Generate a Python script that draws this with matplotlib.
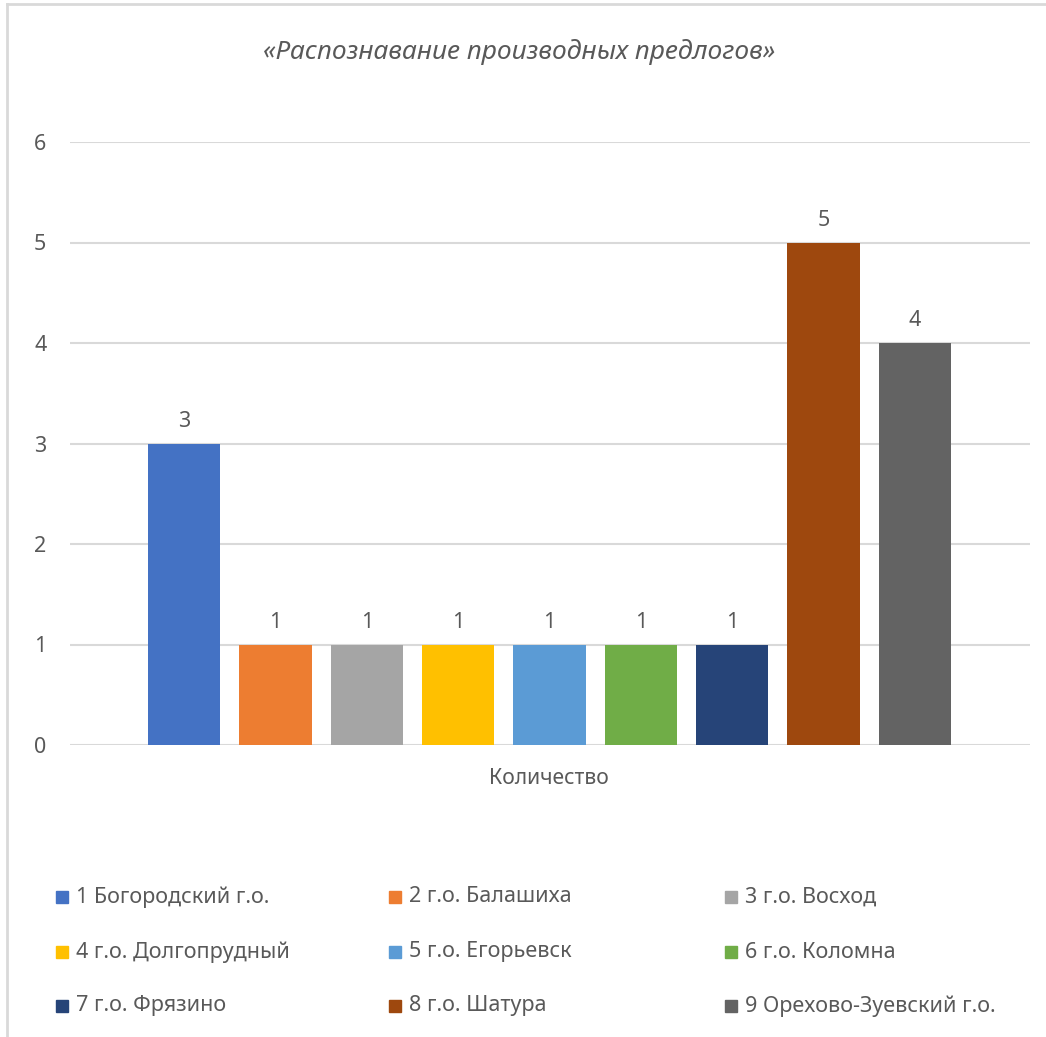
import matplotlib.pyplot as plt
from matplotlib.lines import Line2D
from matplotlib.patches import Rectangle

plt.rcParams['font.family'] = ['Noto Sans', 'DejaVu Sans']

# data
names = ["1 Богородский г.о.", "2 г.о. Балашиха", "3 г.о. Восход",
         "4 г.о. Долгопрудный", "5 г.о. Егорьевск", "6 г.о. Коломна",
         "7 г.о. Фрязино", "8 г.о. Шатура", "9 Орехово-Зуевский г.о."]
values = [3, 1, 1, 1, 1, 1, 1, 5, 4]
colors = ["#4472C4", "#ED7D31", "#A5A5A5", "#FFC000", "#5B9BD5",
          "#70AD47", "#264478", "#9E480E", "#636363"]
title = "«Распознавание производных предлогов»"
category = "Количество"

W, H = 1046, 1037
fig = plt.figure(figsize=(W / 100, H / 100), dpi=100)
ax = fig.add_axes([70 / W, 1 - 745 / H, 960 / W, 603 / H])

text_col = "#595959"
grid_col = "#D9D9D9"

x = list(range(len(values)))
ax.bar(x, values, width=0.79, color=colors, zorder=3)
for xi, v in zip(x, values):
    ax.annotate(str(v), (xi, v), xytext=(0, 16), textcoords="offset points",
                ha="center", va="center", fontsize=15.5, color=text_col)

ax.set_xlim(-1.25, 9.26)
ax.set_ylim(0, 6)
ax.set_yticks(range(0, 7))
ax.set_xticks([])
ax.yaxis.grid(True, color=grid_col, linewidth=1.5, zorder=0)
for s in ax.spines.values():
    s.set_visible(False)
ax.tick_params(axis="y", length=0, pad=17, labelsize=15.5, labelcolor=text_col)
ax.set_facecolor("none")

fig.text(549 / W, 1 - 778 / H, category, ha="center", va="center",
         fontsize=15.2, color=text_col)
fig.text(519 / W, 1 - 52 / H, title, ha="center", va="center",
         fontsize=19, style="italic", color=text_col)

# legend, 3 columns
col_x = [56, 389, 725]
row_y = [897, 952, 1006]
for i, (nm, c) in enumerate(zip(names, colors)):
    cx = col_x[i % 3]
    cy = row_y[i // 3]
    fig.patches.append(Rectangle((cx / W, 1 - (cy + 6) / H), 12 / W, 12 / H,
                                 transform=fig.transFigure, color=c))
    fig.text((cx + 20) / W, 1 - cy / H, nm, ha="left", va="center",
             fontsize=15.5, color=text_col)

# chart border (top and left)
fig.lines.append(Line2D([7 / W, 1], [1 - 4 / H, 1 - 4 / H],
                        transform=fig.transFigure, color=grid_col, linewidth=2))
fig.lines.append(Line2D([7 / W, 7 / W], [0, 1 - 4 / H],
                        transform=fig.transFigure, color=grid_col, linewidth=2))

fig.savefig("out.png", dpi=100, facecolor="white")
